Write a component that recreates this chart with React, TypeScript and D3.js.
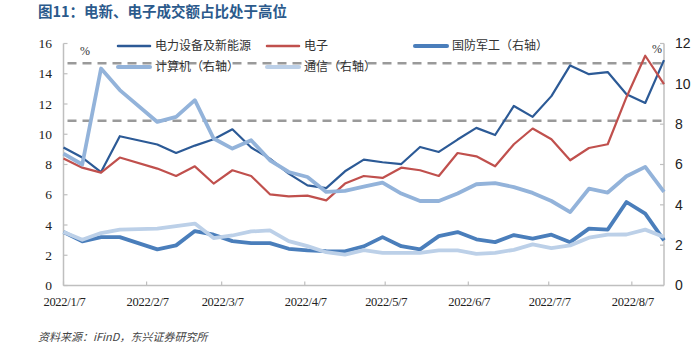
import React, { useEffect, useRef } from "react";
import * as d3 from "d3";

// weekly data, 2022 (Spring Festival week missing)
const dates = [
  "2022/1/7", "2022/1/14", "2022/1/21", "2022/1/28", "2022/2/11", "2022/2/18",
  "2022/2/25", "2022/3/4", "2022/3/11", "2022/3/18", "2022/3/25", "2022/4/1",
  "2022/4/8", "2022/4/15", "2022/4/22", "2022/4/29", "2022/5/6", "2022/5/13",
  "2022/5/20", "2022/5/27", "2022/6/3", "2022/6/10", "2022/6/17", "2022/6/24",
  "2022/7/1", "2022/7/8", "2022/7/15", "2022/7/22", "2022/7/29", "2022/8/5",
  "2022/8/12", "2022/8/19",
];

// left axis (%)
const dianli = [
  9.12, 8.46, 7.5, 9.87, 9.32, 8.76, 9.25, 9.67, 10.33, 9.12, 8.39, 7.4, 6.62,
  6.44, 7.55, 8.32, 8.15, 8.03, 9.16, 8.83, 9.65, 10.42, 9.95, 11.87, 11.15,
  12.52, 14.55, 13.97, 14.11, 12.65, 12.07, 14.9,
];
const dianzi = [
  8.39, 7.79, 7.46, 8.46, 7.73, 7.24, 7.88, 6.74, 7.62, 7.24, 6.03, 5.89, 5.94,
  5.63, 6.74, 7.24, 7.11, 7.79, 7.62, 7.24, 8.76, 8.54, 7.88, 9.34, 10.38, 9.67,
  8.28, 9.09, 9.34, 12.45, 15.19, 13.31,
];
// right axis (%)
const guofang = [
  2.65, 2.19, 2.4, 2.4, 1.79, 1.99, 2.7, 2.52, 2.2, 2.1, 2.1, 1.82, 1.74, 1.7,
  1.69, 1.94, 2.4, 1.95, 1.79, 2.45, 2.65, 2.29, 2.15, 2.5, 2.32, 2.52, 2.15,
  2.82, 2.77, 4.14, 3.56, 2.24,
];
const jisuanji = [
  6.54, 6.0, 10.76, 9.69, 8.11, 8.36, 9.19, 7.29, 6.79, 7.2, 6.21, 5.63, 5.38,
  4.64, 4.69, 4.9, 5.1, 4.56, 4.19, 4.19, 4.56, 5.02, 5.08, 4.88, 4.59, 4.19,
  3.64, 4.8, 4.61, 5.42, 5.88, 4.64,
];
const tongxin = [
  2.65, 2.27, 2.6, 2.77, 2.82, 2.95, 3.07, 2.35, 2.48, 2.68, 2.73, 2.2, 1.95,
  1.65, 1.53, 1.75, 1.62, 1.62, 1.62, 1.74, 1.74, 1.57, 1.62, 1.77, 2.04, 1.85,
  1.99, 2.37, 2.52, 2.53, 2.77, 2.4,
];

const refLines = [14.7, 10.9]; // left axis
const xTickLabels = [
  "2022/1/7", "2022/2/7", "2022/3/7", "2022/4/7",
  "2022/5/7", "2022/6/7", "2022/7/7", "2022/8/7",
];
const leftTicks = [0, 2, 4, 6, 8, 10, 12, 14, 16];
const rightTicks = [0, 2, 4, 6, 8, 10, 12];

const series = [
  { name: "电力设备及新能源", values: dianli, axis: "left", color: "#2C5A96", width: 2.2 },
  { name: "电子", values: dianzi, axis: "left", color: "#C0504D", width: 2.2 },
  { name: "国防军工（右轴）", values: guofang, axis: "right", color: "#4A7EBB", width: 3.8 },
  { name: "计算机（右轴）", values: jisuanji, axis: "right", color: "#93B3DA", width: 3.8 },
  { name: "通信（右轴）", values: tongxin, axis: "right", color: "#BCD0E8", width: 3.8 },
];

const W = 699;
const H = 353;
const cjk = "'Noto Sans CJK SC', 'Noto Sans', sans-serif";
const serif = "'Liberation Serif', 'Times New Roman', serif";
const sans = "'Liberation Sans', Arial, sans-serif";

const App: React.FC = () => {
  const svgRef = useRef<SVGSVGElement>(null);

  useEffect(() => {
    if (!svgRef.current) return;
    const root = d3.select(svgRef.current);
    root.selectAll("*").remove();

    const parse = d3.timeParse("%Y/%m/%d");
    const pts = dates.map((d) => parse(d)!);

    const left = 63.5;
    const right = 664;
    const top = 43.5;
    const bottom = 285.5;

    const x = d3.scaleTime().domain([pts[0], pts[pts.length - 1]]).range([left, right]);
    const yL = d3.scaleLinear().domain([0, 16]).range([bottom, top]);
    const yR = d3.scaleLinear().domain([0, 12]).range([bottom, top]);

    const svg = root.attr("width", W).attr("height", H);
    svg.append("rect").attr("width", W).attr("height", H).attr("fill", "#fff");

    // title
    svg
      .append("text")
      .attr("x", 38)
      .attr("y", 17)
      .attr("font-family", cjk)
      .attr("font-weight", "bold")
      .attr("font-size", 14.5)
      .attr("fill", "#2B5A8C")
      .text("图11：电新、电子成交额占比处于高位");

    const axisColor = "#BFBFBF";

    // reference dashed lines
    svg
      .selectAll(".ref")
      .data(refLines)
      .enter()
      .append("line")
      .attr("x1", left + 4)
      .attr("x2", right)
      .attr("y1", (d) => yL(d))
      .attr("y2", (d) => yL(d))
      .attr("stroke", "#9A9A9A")
      .attr("stroke-width", 2.5)
      .attr("stroke-dasharray", "9,6");

    // axes
    const g = svg.append("g");
    g.append("line").attr("x1", left).attr("x2", left).attr("y1", top).attr("y2", bottom)
      .attr("stroke", axisColor).attr("stroke-width", 1.5);
    g.append("line").attr("x1", right).attr("x2", right).attr("y1", top).attr("y2", bottom)
      .attr("stroke", axisColor).attr("stroke-width", 1.5);
    g.append("line").attr("x1", left).attr("x2", right).attr("y1", bottom).attr("y2", bottom)
      .attr("stroke", axisColor).attr("stroke-width", 1.5);

    g.selectAll(".lt")
      .data(leftTicks)
      .enter()
      .append("line")
      .attr("x1", left)
      .attr("x2", left + 4)
      .attr("y1", (d) => yL(d))
      .attr("y2", (d) => yL(d))
      .attr("stroke", axisColor)
      .attr("stroke-width", 1.2);
    g.selectAll(".ll")
      .data(leftTicks)
      .enter()
      .append("text")
      .attr("x", 52)
      .attr("y", (d) => yL(d))
      .attr("dy", "0.35em")
      .attr("text-anchor", "end")
      .attr("font-family", serif)
      .attr("font-size", 13.5)
      .attr("fill", "#222")
      .text((d) => d);

    g.selectAll(".rt")
      .data(rightTicks)
      .enter()
      .append("line")
      .attr("x1", right - 4)
      .attr("x2", right)
      .attr("y1", (d) => yR(d))
      .attr("y2", (d) => yR(d))
      .attr("stroke", axisColor)
      .attr("stroke-width", 1.2);
    g.selectAll(".rl")
      .data(rightTicks)
      .enter()
      .append("text")
      .attr("x", 675)
      .attr("y", (d) => yR(d))
      .attr("dy", "0.35em")
      .attr("font-family", sans)
      .attr("font-size", 14)
      .attr("fill", "#222")
      .text((d) => d);

    const xTicks = xTickLabels.map((d) => parse(d)!);
    g.selectAll(".xt")
      .data(xTicks)
      .enter()
      .append("line")
      .attr("x1", (d) => x(d))
      .attr("x2", (d) => x(d))
      .attr("y1", bottom)
      .attr("y2", bottom - 4)
      .attr("stroke", axisColor)
      .attr("stroke-width", 1.2);
    g.selectAll(".xl")
      .data(xTickLabels)
      .enter()
      .append("text")
      .attr("x", (d) => x(parse(d)!) + 1)
      .attr("y", 306)
      .attr("text-anchor", "middle")
      .attr("font-family", serif)
      .attr("font-size", 12.5)
      .attr("letter-spacing", -0.3)
      .attr("fill", "#222")
      .text((d) => d);

    // unit labels
    svg.append("text").attr("x", 80).attr("y", 55).attr("font-family", serif)
      .attr("font-size", 12).attr("fill", "#333").text("%");
    svg.append("text").attr("x", 662).attr("y", 53).attr("text-anchor", "end")
      .attr("font-family", serif).attr("font-size", 12).attr("fill", "#333").text("%");

    // lines
    series.forEach((s) => {
      const y = s.axis === "left" ? yL : yR;
      const line = d3
        .line<number>()
        .x((_, i) => x(pts[i]))
        .y((v) => y(v));
      svg
        .append("path")
        .datum(s.values)
        .attr("d", line)
        .attr("fill", "none")
        .attr("stroke", s.color)
        .attr("stroke-width", s.width)
        .attr("stroke-linejoin", "round");
    });

    // legend
    const legendPos = [
      { x: 118, y: 46 },
      { x: 267, y: 46 },
      { x: 415, y: 46 },
      { x: 118, y: 67 },
      { x: 267, y: 67 },
    ];
    const lg = svg.append("g");
    series.forEach((s, i) => {
      const p = legendPos[i];
      lg.append("line")
        .attr("x1", p.x)
        .attr("x2", p.x + 32)
        .attr("y1", p.y)
        .attr("y2", p.y)
        .attr("stroke", s.color)
        .attr("stroke-width", s.width + 0.3)
        .attr("stroke-linecap", "round");
      lg.append("text")
        .attr("x", p.x + 37)
        .attr("y", p.y)
        .attr("dy", "0.36em")
        .attr("font-family", cjk)
        .attr("font-size", 12)
        .attr("fill", "#333")
        .text(s.name);
    });

    // source note
    svg
      .append("text")
      .attr("x", 38)
      .attr("y", 341)
      .attr("font-family", cjk)
      .attr("font-style", "italic")
      .attr("font-size", 11)
      .attr("fill", "#444")
      .text("资料来源：iFinD，东兴证券研究所");
  }, []);

  return (
    <svg
      ref={svgRef}
      width={W}
      height={H}
      style={{ position: "absolute", left: 0, top: 0 }}
    />
  );
};

export default App;
